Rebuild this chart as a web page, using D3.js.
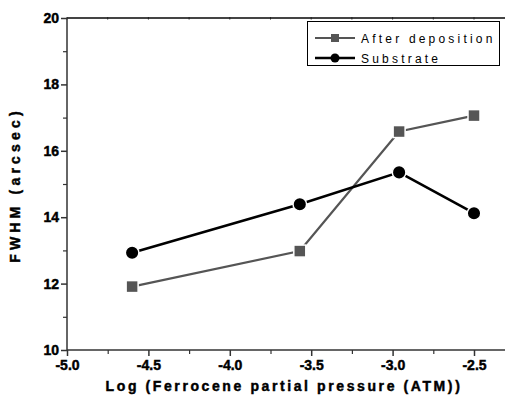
<!DOCTYPE html>
<html>
<head>
<meta charset="utf-8">
<script src="https://cdn.jsdelivr.net/npm/d3@7"></script>
<style>
  body { margin: 0; background: #fff; }
  text { font-family: "Liberation Sans", Arial, sans-serif; }
</style>
</head>
<body>
<div id="chart"></div>
<script>
// data
const pressure = [-4.6, -3.57, -2.96, -2.5]
const afterDep = [11.91, 12.98, 16.58, 17.06]
const substrate = [12.93, 14.39, 15.35, 14.12]
const seriesNames = ["After deposition", "Substrate"]
const xTicks = [-5.0, -4.5, -4.0, -3.5, -3.0, -2.5]
const yTicks = [10, 12, 14, 16, 18, 20]

const w = 505
const h = 400

const svg = d3.select('#chart')
    .append('svg')
    .attr('width', w)
    .attr('height', h)

const xScale = d3.scaleLinear()
    .domain([-5.0, -2.5])
    .range([67, 474])

const yScale = d3.scaleLinear()
    .domain([10, 20])
    .range([350, 18])

const axisColor = '#333'

// top frame line with tiny ticks
svg.append('line')
    .attr('x1', xScale(-5.0)).attr('x2', w)
    .attr('y1', yScale(20)).attr('y2', yScale(20))
    .attr('stroke', '#444').attr('stroke-width', 2)

svg.append('g')
    .selectAll('line')
    .data(d3.range(-5.0, -2.3, 0.25))
    .enter()
    .append('line')
    .attr('x1', d => xScale(d)).attr('x2', d => xScale(d))
    .attr('y1', yScale(20) - 1).attr('y2', yScale(20) + 1.5)
    .attr('stroke', '#222').attr('stroke-width', 1)

// minor ticks
const xMinor = d3.axisBottom(xScale)
    .tickValues(d3.range(-4.75, -2.3, 0.5))
    .tickSize(4)
    .tickFormat('')
const yMinor = d3.axisLeft(yScale)
    .tickValues(d3.range(11, 20, 2))
    .tickSize(4)
    .tickFormat('')

svg.append('g')
    .attr('transform', 'translate(0,' + yScale(10) + ')')
    .call(xMinor)
    .call(g => g.select('.domain').remove())
    .selectAll('line').attr('stroke', axisColor).attr('stroke-width', 1.2)

svg.append('g')
    .attr('transform', 'translate(' + xScale(-5.0) + ',0)')
    .call(yMinor)
    .call(g => g.select('.domain').remove())
    .selectAll('line').attr('stroke', axisColor).attr('stroke-width', 1.2)

// major axes
const xAxis = d3.axisBottom(xScale)
    .tickValues(xTicks)
    .tickSize(6)
    .tickSizeOuter(0)
    .tickPadding(4)
    .tickFormat(d3.format('.1f'))
const yAxis = d3.axisLeft(yScale)
    .tickValues(yTicks)
    .tickSize(6)
    .tickSizeOuter(0)
    .tickPadding(2)

const boldText = sel => sel
    .attr('font-weight', 'bold').attr('fill', '#000')
    .attr('stroke', '#000').attr('stroke-width', 0.45)

const gx = svg.append('g')
    .attr('transform', 'translate(0,' + yScale(10) + ')')
    .call(xAxis)
gx.select('.domain').attr('d', 'M' + xScale(-5.0) + ',0H' + w)
gx.selectAll('path, line').attr('stroke', axisColor).attr('stroke-width', 1.5)
gx.selectAll('text')
    .attr('font-size', 14)
    .call(boldText)
    .text(d => d3.format('.1f')(d).replace('−', '-'))

const gy = svg.append('g')
    .attr('transform', 'translate(' + xScale(-5.0) + ',0)')
    .call(yAxis)
gy.select('.domain').attr('d', 'M0,' + yScale(20) + 'V' + yScale(10))
gy.selectAll('path, line').attr('stroke', axisColor).attr('stroke-width', 1.5)
gy.selectAll('text')
    .attr('font-size', 14)
    .call(boldText)

// axis titles
svg.append('text')
    .attr('x', 284)
    .attr('y', 391)
    .attr('text-anchor', 'middle')
    .attr('font-size', 14)
    .attr('letter-spacing', 2.6)
    .call(boldText)
    .text('Log (Ferrocene partial pressure (ATM))')

svg.append('text')
    .attr('transform', 'translate(20,' + 185 + ') rotate(-90)')
    .attr('text-anchor', 'middle')
    .attr('font-size', 14)
    .attr('letter-spacing', 4.2)
    .call(boldText)
    .text('FWHM (arcsec)')

// series
const colors = ['#555555', '#000000']
const series = [afterDep, substrate]

const line = d3.line()
    .x((d, i) => xScale(pressure[i]))
    .y(d => yScale(d))

series.forEach((vals, s) => {
    svg.append('path')
        .datum(vals)
        .attr('d', line)
        .attr('fill', 'none')
        .attr('stroke', colors[s])
        .attr('stroke-width', s === 0 ? 2.2 : 2.6)
})

const drawMarker = (g, s, cx, cy) => {
    if (s === 0) {
        g.append('rect')
            .attr('x', cx - 6).attr('y', cy - 6)
            .attr('width', 12).attr('height', 12)
            .attr('fill', colors[0])
            .attr('stroke', '#fff').attr('stroke-width', 1.5)
    } else {
        g.append('circle')
            .attr('cx', cx).attr('cy', cy)
            .attr('r', 6.8)
            .attr('fill', colors[1])
            .attr('stroke', '#fff').attr('stroke-width', 1.5)
    }
}

const marks = svg.append('g')
series.forEach((vals, s) => {
    vals.forEach((v, i) => drawMarker(marks, s, xScale(pressure[i]), yScale(v)))
})

// legend
const legend = svg.append('g')
legend.append('rect')
    .attr('x', 307.5).attr('y', 21.5)
    .attr('width', 192).attr('height', 44)
    .attr('fill', '#fff')
    .attr('stroke', '#000').attr('stroke-width', 1)

seriesNames.forEach((name, s) => {
    const ly = 38 + s * 20
    legend.append('line')
        .attr('x1', 315).attr('x2', 355)
        .attr('y1', ly).attr('y2', ly)
        .attr('stroke', colors[s])
        .attr('stroke-width', s === 0 ? 2.2 : 2.6)
    if (s === 0) {
        legend.append('rect')
            .attr('x', 331).attr('y', ly - 4)
            .attr('width', 8).attr('height', 8)
            .attr('fill', colors[0])
    } else {
        legend.append('circle')
            .attr('cx', 335).attr('cy', ly).attr('r', 4.5)
            .attr('fill', colors[1])
    }
    legend.append('text')
        .attr('x', 361)
        .attr('y', ly + 4.5)
        .attr('font-size', 12)
        .attr('letter-spacing', 3.2)
        .text(name)
})
</script>
</body>
</html>
